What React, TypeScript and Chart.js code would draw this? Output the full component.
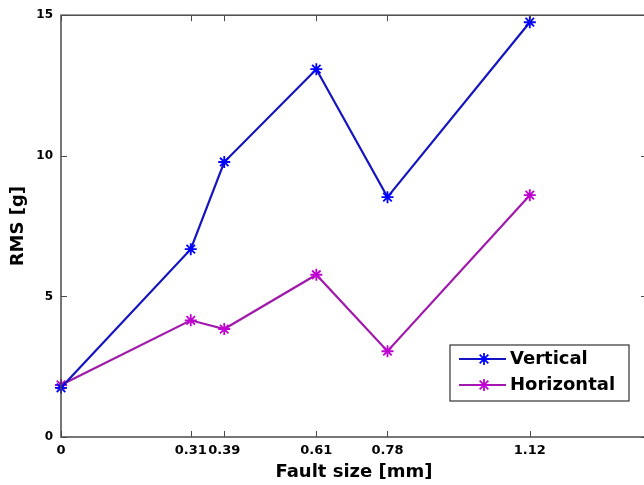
import React, { useEffect, useRef } from "react";
import { Chart, registerables } from "chart.js";

Chart.register(...registerables);

const faultSizes = [0, 0.31, 0.39, 0.61, 0.78, 1.12];
const verticalRms = [1.75, 6.68, 9.78, 13.08, 8.53, 14.75];
const horizontalRms = [1.85, 4.15, 3.84, 5.77, 3.05, 8.6];
const xTickValues = [0, 0.31, 0.39, 0.61, 0.78, 1.12];
const yTickValues = [0, 5, 10, 15];
const seriesNames = ["Vertical", "Horizontal"];

const BLUE_LINE = "#1414c0";
const BLUE_MARK = "#0000ff";
const MAG_LINE = "#a018ac";
const MAG_MARK = "#c000d0";
const FONT = "'DejaVu Sans', sans-serif";

const framePlugin = {
  id: "frame",
  afterDatasetsDraw(chart: any) {
    const { ctx, chartArea } = chart;
    const { left, right, top, bottom } = chartArea;
    const xs = chart.scales.x;
    const ys = chart.scales.y;
    ctx.save();
    ctx.strokeStyle = "#4a4a4a";
    ctx.lineWidth = 1.5;
    ctx.strokeRect(left, top, right - left, bottom - top);
    ctx.lineWidth = 1;
    const tl = 6;
    ctx.beginPath();
    xTickValues.forEach((v) => {
      const px = Math.round(xs.getPixelForValue(v)) + 0.5;
      ctx.moveTo(px, bottom);
      ctx.lineTo(px, bottom - tl);
      ctx.moveTo(px, top);
      ctx.lineTo(px, top + tl);
    });
    yTickValues.forEach((v) => {
      const py = Math.round(ys.getPixelForValue(v)) + 0.5;
      ctx.moveTo(left, py);
      ctx.lineTo(left + tl, py);
      ctx.moveTo(right, py);
      ctx.lineTo(right - tl, py);
    });
    ctx.stroke();
    ctx.restore();
  },
};

const legendPlugin = {
  id: "boxLegend",
  afterDraw(chart: any) {
    const { ctx } = chart;
    const bx = 450, by = 345, bw = 179, bh = 56;
    ctx.save();
    ctx.fillStyle = "#ffffff";
    ctx.fillRect(bx, by, bw, bh);
    ctx.strokeStyle = "#333333";
    ctx.lineWidth = 1.2;
    ctx.strokeRect(bx, by, bw, bh);
    const rows = [
      { name: seriesNames[0], line: BLUE_LINE, mark: BLUE_MARK, y: by + 14 },
      { name: seriesNames[1], line: MAG_LINE, mark: MAG_MARK, y: by + 40 },
    ];
    rows.forEach((r) => {
      ctx.strokeStyle = r.line;
      ctx.lineWidth = 2;
      ctx.beginPath();
      ctx.moveTo(459, r.y);
      ctx.lineTo(506, r.y);
      ctx.stroke();
      const cx = 484, cy = r.y, s = 6;
      ctx.strokeStyle = r.mark;
      ctx.lineWidth = 1.8;
      ctx.beginPath();
      ctx.moveTo(cx - s, cy); ctx.lineTo(cx + s, cy);
      ctx.moveTo(cx, cy - s); ctx.lineTo(cx, cy + s);
      const d = s * 0.72;
      ctx.moveTo(cx - d, cy - d); ctx.lineTo(cx + d, cy + d);
      ctx.moveTo(cx - d, cy + d); ctx.lineTo(cx + d, cy - d);
      ctx.stroke();
      ctx.fillStyle = "#000";
      ctx.font = `bold 18px ${FONT}`;
      ctx.textBaseline = "middle";
      ctx.textAlign = "left";
      ctx.fillText(r.name, 510, r.y);
    });
    ctx.restore();
  },
};

export default function App() {
  const ref = useRef<HTMLCanvasElement | null>(null);
  useEffect(() => {
    if (!ref.current) return;
    const chart = new Chart(ref.current, {
      type: "line",
      data: {
        datasets: [
          {
            label: seriesNames[0],
            data: faultSizes.map((x, i) => ({ x, y: verticalRms[i] })),
            borderColor: BLUE_LINE,
            backgroundColor: BLUE_MARK,
            pointBorderColor: BLUE_MARK,
            pointStyle: "star",
            pointRadius: 6,
            pointBorderWidth: 1.8,
            borderWidth: 2.2,
            tension: 0,
          },
          {
            label: seriesNames[1],
            data: faultSizes.map((x, i) => ({ x, y: horizontalRms[i] })),
            borderColor: MAG_LINE,
            backgroundColor: MAG_MARK,
            pointBorderColor: MAG_MARK,
            pointStyle: "star",
            pointRadius: 6,
            pointBorderWidth: 1.8,
            borderWidth: 2.2,
            tension: 0,
          },
        ],
      },
      options: {
        responsive: false,
        animation: false,
        clip: false as any,
        layout: { padding: { left: 0, right: 13, top: 15, bottom: 0 } },
        plugins: { legend: { display: false }, tooltip: { enabled: false } },
        scales: {
          x: {
            type: "linear",
            min: 0,
            max: 1.4,
            grid: { display: false, drawTicks: false },
            border: { display: false },
            afterFit: (s: any) => { s.height = 48; },
            afterBuildTicks: (s: any) => { s.ticks = xTickValues.map((v) => ({ value: v })); },
            ticks: {
              autoSkip: false,
              maxRotation: 0,
              padding: 6,
              color: "#000",
              font: { family: FONT, weight: "bold", size: 13 },
              callback: (v: any) => String(v),
            },
            title: {
              display: true,
              text: "Fault size [mm]",
              color: "#000",
              font: { family: FONT, weight: "bold", size: 18 },
              padding: { top: 0, bottom: 2 },
            },
          },
          y: {
            min: 0,
            max: 15,
            grid: { display: false, drawTicks: false },
            border: { display: false },
            afterFit: (s: any) => { s.width = 61; },
            afterBuildTicks: (s: any) => { s.ticks = yTickValues.map((v) => ({ value: v })); },
            ticks: {
              padding: 8,
              color: "#000",
              font: { family: FONT, weight: "bold", size: 12 },
            },
            title: {
              display: true,
              text: "RMS [g]",
              color: "#000",
              font: { family: FONT, weight: "bold", size: 18 },
              padding: { top: 8, bottom: 0 },
            },
          },
        },
      },
      plugins: [framePlugin, legendPlugin],
    });
    return () => chart.destroy();
  }, []);
  return (
    <div style={{ position: "absolute", left: 0, top: 0, width: 644, height: 485, overflow: "hidden", background: "#fff" }}>
      <canvas ref={ref} width={660} height={485} style={{ width: 660, height: 485, display: "block" }} />
    </div>
  );
}
